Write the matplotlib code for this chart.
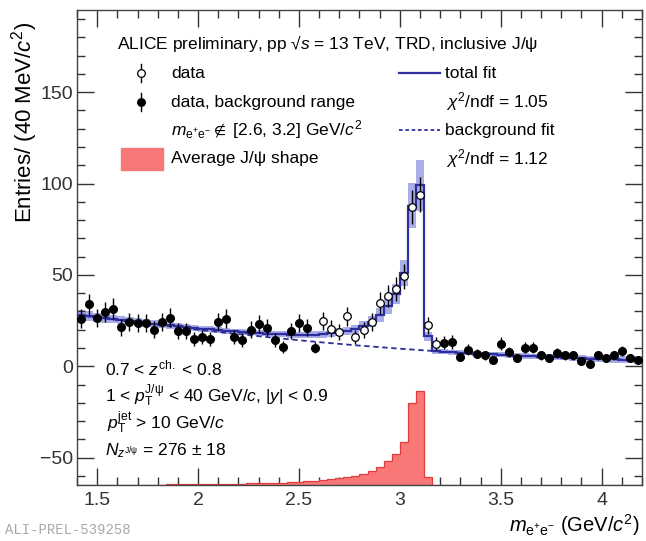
#!/usr/bin/env python3

import numpy as np
import matplotlib
matplotlib.use("Agg")
import matplotlib.pyplot as plt
from matplotlib.ticker import MultipleLocator

#################################################
### Data
#################################################

# 40 MeV bins from 1.40 to 4.20 GeV/c^2
bin_edges = np.linspace(1.40, 4.20, 71)
bin_centers = 0.5 * (bin_edges[:-1] + bin_edges[1:])

# entries per bin (1.42 ... 4.18)
counts_low = [26, 34, 26.5, 29.7, 31.5, 21.3, 24.2, 23.7, 23.7, 20,
              24.2, 26.6, 19.3, 19.3, 15.1, 16, 15.1, 24.2, 26, 16,
              14.2, 20, 23.2, 21.1, 14.5, 10.6, 19.3, 23.7, 21.1, 10.2]
counts_sig = [24.8, 20.6, 18.7, 27.4, 16, 19.7, 24.2, 34.6, 38.4, 42.4,
              49.2, 87, 94, 22.4, 12.4]
counts_high = [12.8, 13.3, 5.1, 9.1, 6.9, 6, 3.6, 12.4, 7.8, 4.7,
               10.2, 10.2, 6, 4.7, 7.3, 6, 6, 2.9, 1.1, 6,
               4.7, 6, 8.4, 4.7, 3.6]

err_low = [5.1, 5.8, 5.1, 5.4, 5.6, 4.6, 4.9, 4.9, 4.9, 4.5,
           4.9, 5.2, 4.4, 4.4, 3.9, 4.0, 3.9, 4.9, 5.1, 4.0,
           3.8, 4.5, 4.8, 4.6, 3.8, 3.3, 4.4, 4.9, 4.6, 3.2]
err_sig = [5.0, 4.5, 4.3, 5.2, 4.0, 4.4, 4.9, 5.9, 6.2, 6.5,
           7.0, 9.3, 9.7, 4.7, 3.5]
err_high = [3.6, 3.6, 2.3, 3.0, 2.6, 2.4, 1.9, 3.5, 2.8, 2.2,
            3.2, 3.2, 2.4, 2.2, 2.7, 2.4, 2.4, 1.7, 1.0, 2.4,
            2.2, 2.4, 2.9, 2.2, 1.9]

# background fit, sampled
bg_mass = [1.4, 1.6, 1.8, 2.0, 2.2, 2.4, 2.6, 2.8, 3.0, 3.2, 3.4, 3.6, 3.8, 4.0, 4.2]
bg_fit = [28.0, 25.3, 22.6, 20.0, 17.6, 15.3, 13.2, 11.3, 9.6, 8.1, 6.8, 5.7, 4.8, 4.0, 3.3]
bg_unc = [2.8, 2.3, 1.9, 1.6, 1.4, 1.3, 1.3, 1.3, 1.3, 1.3, 1.3, 1.4, 1.5, 1.7, 2.0]

# average J/psi shape (height of the red histogram, per bin)
jpsi_shape = [0.1, 0.1, 0.1, 0.12, 0.13, 0.15, 0.17, 0.19, 0.21, 0.23,
              0.26, 0.29, 0.32, 0.36, 0.4, 0.45, 0.5, 0.56, 0.63, 0.7,
              0.78, 0.87, 0.97, 1.08, 1.2, 1.35, 1.5, 1.7, 1.95, 2.2,
              2.6, 3.1, 3.6, 4.2, 5.0, 6.2, 7.8, 10, 13, 17,
              23.7, 45, 51.5, 4.5] + [0] * 26
jpsi_scale = 1.75
jpsi_scale_unc = 0.14

y_min, y_max = -65, 195

#################################################
### Plot
#################################################

plt.rcParams['font.family'] = ['Liberation Sans', 'DejaVu Sans']
plt.rcParams['mathtext.fontset'] = 'custom'
plt.rcParams['mathtext.rm'] = 'Liberation Sans'
plt.rcParams['mathtext.it'] = 'Liberation Sans:italic'
plt.rcParams['mathtext.bf'] = 'Liberation Sans:bold'
plt.rcParams['mathtext.fallback'] = 'stixsans'

W, H = 646, 541
fig = plt.figure(figsize=(W / 100, H / 100), dpi=100)
ax = fig.add_axes([77 / W, 1 - 485 / H, (642 - 77) / W, (485 - 10) / H])

blue = '#2e2e9e'
band_col = '#a9aee8'

shape = np.array(jpsi_shape)
bg_at_bins = np.interp(bin_centers, bg_mass, bg_fit)
total = bg_at_bins + jpsi_scale * shape
band = np.interp(bin_centers, bg_mass, bg_unc) + jpsi_scale_unc * jpsi_scale * shape

# band around total fit
xs = np.repeat(bin_edges, 2)[1:-1]
ax.fill_between(xs, np.repeat(total - band, 2), np.repeat(total + band, 2),
                color=band_col, lw=0, zorder=1)

# red J/psi shape drawn on the bottom of the frame
ax.stairs(y_min + shape, bin_edges, baseline=y_min, fill=True,
          color='#f87878', zorder=2)
ax.stairs(y_min + shape, bin_edges, baseline=y_min, color='#e03c3c',
          lw=0.9, zorder=2)

# fits
ax.plot(bg_mass, bg_fit, color=blue, lw=1.3, ls=(0, (3, 2)), zorder=3)
ax.stairs(total, bin_edges, baseline=None, color=blue, lw=1.6, zorder=3)

# data points
n_low, n_sig = len(counts_low), len(counts_sig)
x_low = bin_centers[:n_low]
x_sig = bin_centers[n_low:n_low + n_sig]
x_high = bin_centers[n_low + n_sig:]
for xv, yv, ev in [(x_low, counts_low, err_low), (x_high, counts_high, err_high)]:
    ax.errorbar(xv, yv, yerr=ev, fmt='o', color='black', ms=5.5,
                elinewidth=1.0, capsize=0, zorder=5)
ax.errorbar(x_sig, counts_sig, yerr=err_sig, fmt='o', mfc='white', mec='black',
            color='black', ms=5.5, mew=0.9, elinewidth=1.0, capsize=0, zorder=5)

ax.set_xlim(1.4, 4.2)
ax.set_ylim(y_min, y_max)

ax.xaxis.set_major_locator(MultipleLocator(0.5))
ax.xaxis.set_minor_locator(MultipleLocator(0.1))
ax.yaxis.set_major_locator(MultipleLocator(50))
ax.yaxis.set_minor_locator(MultipleLocator(10))
ax.xaxis.set_major_formatter(matplotlib.ticker.FormatStrFormatter('%g'))
ax.tick_params(which='both', direction='in', top=True, right=True,
               labelsize=14, colors='#333333', width=1.0)
ax.tick_params(which='major', length=12)
ax.tick_params(which='minor', length=6)
ax.tick_params(axis='x', pad=5)
ax.tick_params(axis='y', pad=3)
for sp in ax.spines.values():
    sp.set_color('#444444')
    sp.set_linewidth(1.0)

ax.text(-0.093, 0.975, r'Entries/ (40 MeV/$c^{2}$)', rotation=90, ha='center',
        va='top', fontsize=16, transform=ax.transAxes)
ax.text(0.996, -0.084, r'$m_{\mathrm{e^{+}e^{-}}}$ (GeV/$c^{2}$)', ha='right',
        va='center', fontsize=14.5, transform=ax.transAxes)

fig.text(5 / W, 1 - 530 / H, 'ALI-PREL-539258', family='Liberation Mono',
         fontsize=10, color='#a8a8a8', va='center')


# legend drawn by hand, positions in picture pixels
def px(x, y):
    return (x - 77) / 565, (485 - y) / 475


fs = 12.5
tr = ax.transAxes
ax.text(*px(117, 44), 'ALICE preliminary, pp √$s$ = 13 TeV, TRD, inclusive J/ψ',
        fontsize=fs, va='center', transform=tr)

rows = [73, 102, 130, 159]
for yy, filled in [(rows[0], False), (rows[1], True)]:
    mx, my = px(141, yy)
    ax.plot([mx, mx], [my - 9 / 475, my + 9 / 475], color='black', lw=1.0,
            transform=tr, clip_on=False, zorder=6)
    ax.plot([mx], [my], 'o', ms=5.5, mfc='black' if filled else 'white',
            mec='black', mew=0.9, transform=tr, clip_on=False, zorder=7)
ax.text(*px(171, rows[0]), 'data', fontsize=fs, va='center', transform=tr)
ax.text(*px(171, rows[1]), 'data, background range', fontsize=fs, va='center', transform=tr)
ax.text(*px(171, rows[2]), r'$m_{\mathrm{e^{+}e^{-}}} \notin$ [2.6, 3.2] GeV/$c^{2}$',
        fontsize=fs, va='center', transform=tr)
ax.add_patch(plt.Rectangle(px(121, 170), 42 / 565, 22 / 475, transform=tr,
                           facecolor='#f87878', edgecolor='#f87878', zorder=6))
ax.text(*px(171, rows[3]), 'Average J/ψ shape', fontsize=fs, va='center', transform=tr)

l0, l1 = px(399, rows[0]), px(440, rows[0])
ax.plot([l0[0], l1[0]], [l0[1], l1[1]], color=blue, lw=1.6, transform=tr)
ax.text(*px(445, rows[0]), 'total fit', fontsize=fs, va='center', transform=tr)
ax.text(*px(446, rows[1]), r'$\chi^{2}$/ndf = 1.05', fontsize=fs, va='center', transform=tr)
l0, l1 = px(399, rows[2]), px(440, rows[2])
ax.plot([l0[0], l1[0]], [l0[1], l1[1]], color=blue, lw=1.3, ls=(0, (2, 1.5)), transform=tr)
ax.text(*px(445, rows[2]), 'background fit', fontsize=fs, va='center', transform=tr)
ax.text(*px(446, rows[3]), r'$\chi^{2}$/ndf = 1.12', fontsize=fs, va='center', transform=tr)

# selection text, bottom left
ax.text(*px(105, 368), r'0.7 < $z^{\mathrm{ch.}}$ < 0.8', fontsize=fs, va='center', transform=tr)
ax.text(*px(105, 396), r'1 < $p_{\mathrm{T}}^{\mathrm{J/\psi}}$ < 40 GeV/$c$, $|y|$ < 0.9',
        fontsize=fs, va='center', transform=tr)
ax.text(*px(107, 423), r'$p_{\mathrm{T}}^{\mathrm{jet}}$ > 10 GeV/$c$', fontsize=fs,
        va='center', transform=tr)
ax.text(*px(105, 451), r'$N_{z^{\mathrm{J/\psi}}}$ = 276 $\pm$ 18', fontsize=fs,
        va='center', transform=tr)

fig.savefig('out.png', dpi=100)
